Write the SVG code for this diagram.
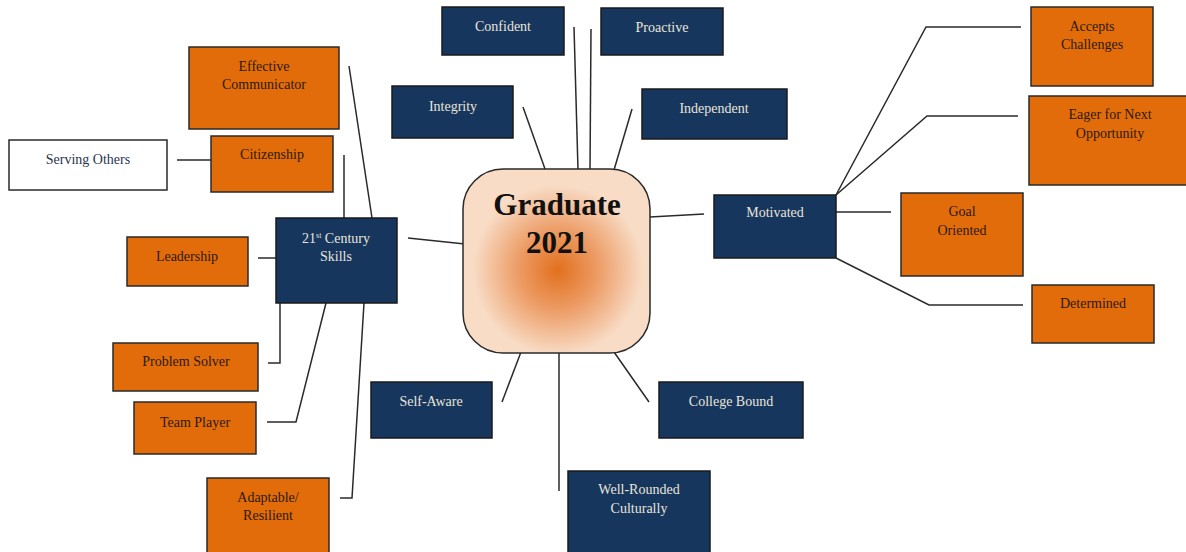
<svg xmlns="http://www.w3.org/2000/svg" width="1186" height="552" viewBox="0 0 1186 552">
<style>
.n{fill:#17365d;stroke:#1a1a1a;stroke-width:1.5}
.o{fill:#e36c0a;stroke:#2a2a2a;stroke-width:1.5}
.w{fill:#ffffff;stroke:#2a2a2a;stroke-width:1.5}
.tn{font-family:"Liberation Serif",serif;font-size:14px;fill:#e8e4da;text-anchor:middle}
.to{font-family:"Liberation Serif",serif;font-size:14px;fill:#2b1a0a;text-anchor:middle}
.tw{font-family:"Liberation Serif",serif;font-size:14px;fill:#2a3550;text-anchor:middle}
.c{fill:none;stroke:#2a2a2a;stroke-width:1.5}
</style>
<defs>
<radialGradient id="g" gradientUnits="userSpaceOnUse" cx="558" cy="270" r="85">
<stop offset="0" stop-color="#e2701e"/>
<stop offset="0.45" stop-color="#ec9a62"/>
<stop offset="1" stop-color="#f8dcc6"/>
</radialGradient>
</defs>
<rect width="1186" height="552" fill="#ffffff"/>
<g id="connectors">
<line class="c" x1="177" y1="160" x2="211" y2="160"/>
<line class="c" x1="344" y1="155" x2="344" y2="218"/>
<line class="c" x1="349" y1="66" x2="372" y2="218"/>
<line class="c" x1="258" y1="258" x2="276" y2="258"/>
<line class="c" x1="408" y1="238" x2="465" y2="244"/>
<polyline class="c" points="280,303 280,363 268,363"/>
<polyline class="c" points="326,303 296,422 267,422"/>
<polyline class="c" points="364,303 352,498 340,498"/>
<line class="c" x1="574" y1="27" x2="578" y2="170"/>
<line class="c" x1="591" y1="29" x2="590" y2="170"/>
<line class="c" x1="523" y1="107" x2="545" y2="169"/>
<line class="c" x1="632" y1="109" x2="614" y2="170"/>
<line class="c" x1="650" y1="217" x2="704" y2="214"/>
<polyline class="c" points="836,195 926,27 1021,27"/>
<polyline class="c" points="836,195 927,116 1018,116"/>
<line class="c" x1="836" y1="212" x2="891" y2="212"/>
<polyline class="c" points="836,258 929,305 1023,305"/>
<line class="c" x1="521" y1="352" x2="502" y2="402"/>
<line class="c" x1="559" y1="352" x2="559" y2="491"/>
<line class="c" x1="614" y1="352" x2="649" y2="402"/>
</g>
<g id="graduate">
<rect x="463" y="169" width="187" height="184" rx="40" ry="40" fill="url(#g)" stroke="#2a2a2a" stroke-width="1.5"/>
<text x="557" y="215" font-family="Liberation Serif,serif" font-size="31" font-weight="bold" text-anchor="middle" fill="#111">Graduate</text>
<text x="557" y="253" font-family="Liberation Serif,serif" font-size="31" font-weight="bold" text-anchor="middle" fill="#111">2021</text>
</g>
<g id="effective-communicator"><rect class="o" x="189" y="47" width="150" height="82"/><text class="to" x="264" y="71">Effective</text><text class="to" x="264" y="89">Communicator</text></g>
<g id="serving-others"><rect class="w" x="9" y="140" width="158" height="50"/><text class="tw" x="88" y="164">Serving Others</text></g>
<g id="citizenship"><rect class="o" x="211" y="136" width="122" height="56"/><text class="to" x="272" y="159">Citizenship</text></g>
<g id="skills21"><rect class="n" x="276" y="218" width="121" height="85"/><text class="tn" x="336" y="243">21<tspan font-size="8" dy="-5">st</tspan><tspan dy="5"> Century</tspan></text><text class="tn" x="336" y="261">Skills</text></g>
<g id="leadership"><rect class="o" x="127" y="237" width="121" height="49"/><text class="to" x="187" y="261">Leadership</text></g>
<g id="problem-solver"><rect class="o" x="113" y="343" width="145" height="48"/><text class="to" x="186" y="366">Problem Solver</text></g>
<g id="team-player"><rect class="o" x="134" y="402" width="122" height="52"/><text class="to" x="195" y="427">Team Player</text></g>
<g id="adaptable"><rect class="o" x="207" y="478" width="122" height="80"/><text class="to" x="268" y="502">Adaptable/</text><text class="to" x="268" y="520">Resilient</text></g>
<g id="confident"><rect class="n" x="442" y="7" width="122" height="48"/><text class="tn" x="503" y="31">Confident</text></g>
<g id="proactive"><rect class="n" x="601" y="8" width="122" height="47"/><text class="tn" x="662" y="32">Proactive</text></g>
<g id="integrity"><rect class="n" x="392" y="86" width="121" height="52"/><text class="tn" x="453" y="111">Integrity</text></g>
<g id="independent"><rect class="n" x="642" y="89" width="145" height="50"/><text class="tn" x="714" y="113">Independent</text></g>
<g id="motivated"><rect class="n" x="714" y="195" width="122" height="63"/><text class="tn" x="775" y="217">Motivated</text></g>
<g id="accepts-challenges"><rect class="o" x="1031" y="7" width="122" height="79"/><text class="to" x="1092" y="31">Accepts</text><text class="to" x="1092" y="49">Challenges</text></g>
<g id="eager"><rect class="o" x="1029" y="96" width="160" height="89"/><text class="to" x="1110" y="119">Eager for Next</text><text class="to" x="1110" y="138">Opportunity</text></g>
<g id="goal-oriented"><rect class="o" x="901" y="193" width="122" height="83"/><text class="to" x="962" y="216">Goal</text><text class="to" x="962" y="235">Oriented</text></g>
<g id="determined"><rect class="o" x="1032" y="285" width="122" height="58"/><text class="to" x="1093" y="308">Determined</text></g>
<g id="self-aware"><rect class="n" x="371" y="382" width="121" height="56"/><text class="tn" x="431" y="406">Self-Aware</text></g>
<g id="college-bound"><rect class="n" x="659" y="382" width="144" height="56"/><text class="tn" x="731" y="406">College Bound</text></g>
<g id="well-rounded"><rect class="n" x="568" y="471" width="142" height="90"/><text class="tn" x="639" y="494">Well-Rounded</text><text class="tn" x="639" y="513">Culturally</text></g>
</svg>
